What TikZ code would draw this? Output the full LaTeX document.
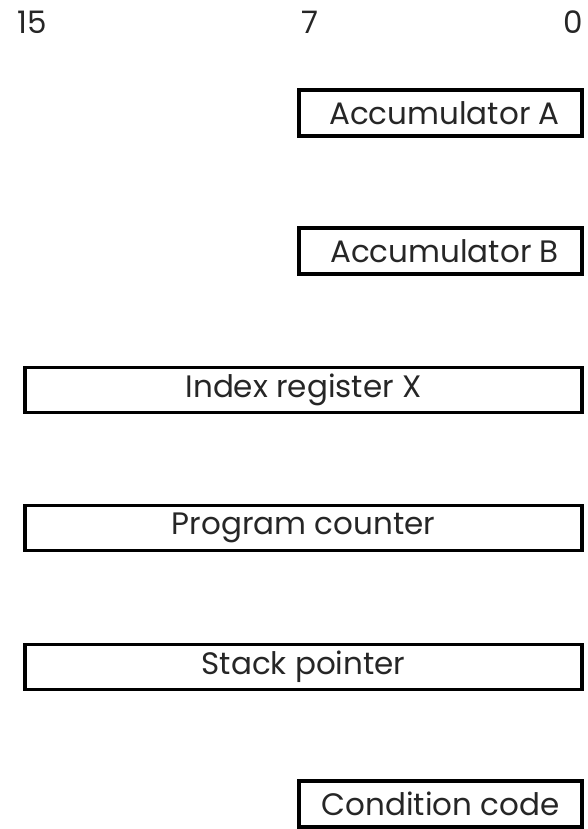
\documentclass[tikz,border=0pt]{standalone}
\usepackage{fontspec}
\setmainfont{Poppins}
\begin{document}
\begin{tikzpicture}[x=1pt,y=-1pt,
  reg/.style={draw=black,line width=3.6pt,inner sep=0pt,
    font=\fontsize{31}{34}\selectfont,text=black!85},
  short/.style={reg,minimum width=283pt,minimum height=46pt},
  long/.style={reg,minimum width=557pt,minimum height=45pt},
  bitlabel/.style={font=\fontsize{31}{34}\selectfont,text=black!85}]
  \useasboundingbox (0,0) rectangle (588,829);
  % bit position labels
  \node[bitlabel] (b15) at (32,22) {15};
  \node[bitlabel] (b7) at (310,22) {7};
  \node[bitlabel] (b0) at (573,22) {0};
  % 8-bit accumulators
  \node[short] (acca) at (440.5,113) {\hspace*{8pt}Accumulator A};
  \node[short] (accb) at (440.5,251) {\hspace*{8pt}Accumulator B};
  % 16-bit registers
  \node[long] (ix) at (303.5,390) {Index register X};
  \node[long] (pc) at (303.5,528) {Program counter};
  \node[long] (sp) at (303.5,667) {Stack pointer};
  % condition code register
  \node[short] (ccr) at (440.5,804) {Condition code};
\end{tikzpicture}
\end{document}
